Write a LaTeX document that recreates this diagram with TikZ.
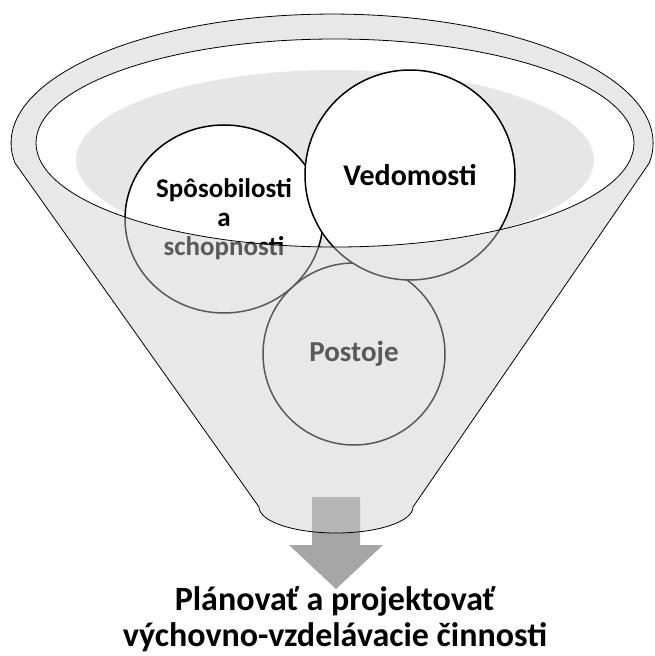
\documentclass[tikz,border=0pt]{standalone}
\usepackage{fontspec}
\setmainfont{Carlito}
\usepackage{xcolor}
\definecolor{funnelshade}{RGB}{203,203,203}
\definecolor{poolgray}{RGB}{230,230,230}
\definecolor{arrowgray}{RGB}{166,166,166}
\usepackage{tikz}
\usetikzlibrary{shapes.geometric}
\newcommand{\funnelpath}{%
  (15,163) arc[start angle=171.1, end angle=368.9, x radius=321, y radius=129]
  -- (413,507) arc[start angle=0, end angle=180, x radius=77, y radius=26] -- cycle}
\newcommand{\openingpath}{(335,143) ellipse [x radius=299, y radius=104]}
\tikzset{
  bubble/.style={circle,draw=black,line width=1.5pt,fill=white,inner sep=0pt,
    align=center,font=\bfseries\fontsize{30}{32}\selectfont},
  funnelline/.style={draw=black,line width=0.8pt},
  goaltext/.style={align=center,font=\bfseries\fontsize{34}{36}\selectfont}
}

\begin{document}
\begin{tikzpicture}[x=1pt,y=-1pt]
  \useasboundingbox (0,0) rectangle (655,656);
  % fondo gris dentro de la boca
  \begin{scope}
    \clip \openingpath;
    \fill[poolgray] (335,160) ellipse [x radius=259, y radius=90];
  \end{scope}
  % circulos
  \node[bubble,minimum size=182pt,font=\bfseries\fontsize{29}{31}\selectfont]
    (postoje) at (354,354) {Postoje};
  \node[bubble,ellipse,minimum width=198pt,minimum height=188pt,
    font=\bfseries\fontsize{27}{29}\selectfont] (sposobilosti) at (224,219)
    {Spôsobilosti\\a\\schopnosti};
  \node[bubble,minimum size=210pt] (vedomosti) at (410,175) {Vedomosti};
  % flecha
  \fill[arrowgray] (312,497) -- (360,497) -- (360,545) -- (383,545)
    -- (336,589) -- (289,545) -- (312,545) -- cycle;
  % cuerpo del embudo
  \fill[funnelshade,fill opacity=0.44,even odd rule] \funnelpath \openingpath;
  \draw[funnelline] \funnelpath;
  \draw[funnelline] \openingpath;
  \node[goaltext,anchor=base] (planovat) at (335,646)
    {Plánovať a projektovať\\výchovno-vzdelávacie činnosti};
\end{tikzpicture}
\end{document}
